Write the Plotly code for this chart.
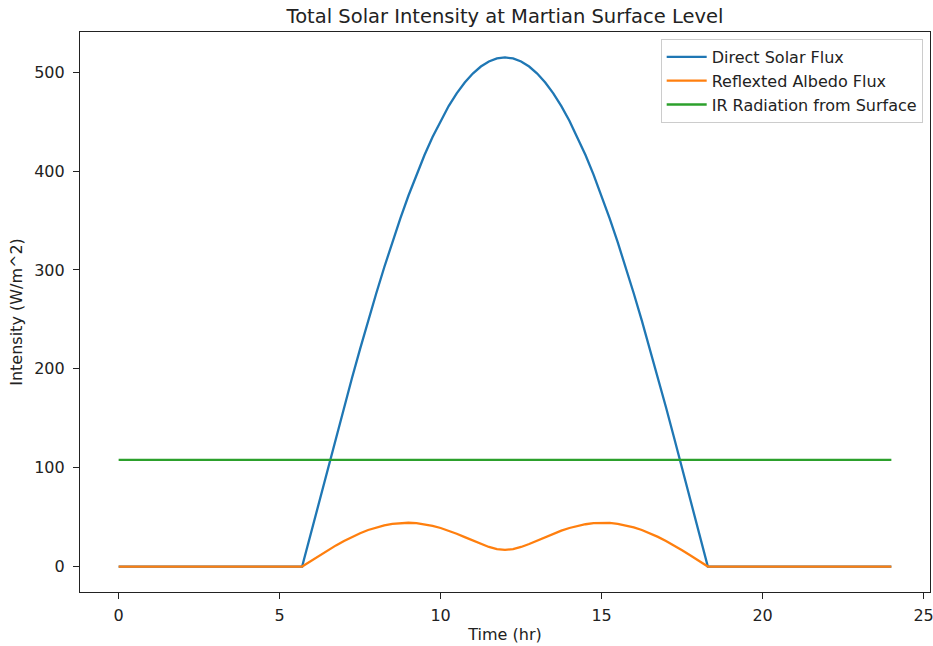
import plotly.graph_objects as go

# Time samples (hr)
time_hr = [0, 5.7, 5.75, 6, 6.25, 6.5, 6.75, 7, 7.25, 7.5, 7.75, 8, 8.25, 8.5, 8.75,
           9, 9.25, 9.5, 9.75, 10, 10.25, 10.5, 10.75, 11, 11.25, 11.5, 11.75, 12,
           12.25, 12.5, 12.75, 13, 13.25, 13.5, 13.75, 14, 14.25, 14.5, 14.75, 15,
           15.25, 15.5, 15.75, 16, 16.25, 16.5, 16.75, 17, 17.25, 17.5, 17.75, 18,
           18.25, 18.3, 24]

# Direct Solar Flux (W/m^2)
direct_flux = [0, 0, 6.3, 37.5, 68.7, 99.8, 130.6, 161.1, 191.0, 220.2, 248.7, 276.2, 302.8, 328.2, 352.3,
               375.1, 396.5, 416.3, 434.5, 451.0, 465.8, 478.6, 489.6, 498.7, 505.8, 510.9, 514.0, 515.0,
               514.0, 510.9, 505.8, 498.7, 489.6, 478.6, 465.8, 451.0, 434.5, 416.3, 396.5, 375.1,
               352.3, 328.2, 302.8, 276.2, 248.7, 220.2, 191.0, 161.1, 130.6, 99.8, 68.7, 37.5,
               6.3, 0, 0]

# Reflected Albedo Flux (W/m^2)
albedo_flux = [0, 0, 1.1, 6.3, 11.5, 16.5, 21.4, 25.9, 30.0, 33.7, 37.0, 39.6, 41.7, 43.2, 44.1,
               44.3, 43.9, 42.8, 41.1, 39.0, 36.3, 33.2, 29.8, 26.3, 22.8, 19.8, 17.6, 16.9,
               17.6, 19.8, 22.8, 26.3, 29.8, 33.2, 36.3, 39.0, 41.1, 42.8, 43.9, 44.3,
               44.1, 43.2, 41.7, 39.6, 37.0, 33.7, 30.0, 25.9, 21.4, 16.5, 11.5, 6.3,
               1.1, 0, 0]

# IR Radiation from Surface (W/m^2)
ir_time = [0, 24]
ir_flux = [108, 108]

series_names = ["Direct Solar Flux", "Reflexted Albedo Flux", "IR Radiation from Surface"]
colors = ["#1f77b4", "#ff7f0e", "#2ca02c"]

x_ticks = [0, 5, 10, 15, 20, 25]
y_ticks = [0, 100, 200, 300, 400, 500]

FONT = "DejaVu Sans"
INK = "#222222"

fig = go.Figure()
fig.add_trace(go.Scatter(x=time_hr, y=direct_flux, mode="lines", name=series_names[0],
                         line=dict(color=colors[0], width=2.3)))
fig.add_trace(go.Scatter(x=time_hr, y=albedo_flux, mode="lines", name=series_names[1],
                         line=dict(color=colors[1], width=2.3)))
fig.add_trace(go.Scatter(x=ir_time, y=ir_flux, mode="lines", name=series_names[2],
                         line=dict(color=colors[2], width=2.3)))

axis_common = dict(
    showgrid=False, zeroline=False, showline=True, linecolor=INK, linewidth=1.2,
    mirror=True, ticks="outside", ticklen=6, tickwidth=1.2, tickcolor=INK,
    tickfont=dict(family=FONT, size=16, color=INK),
    ticklabeloverflow="allow", automargin=False,
)

fig.update_layout(
    width=933, height=646,
    margin=dict(l=80, r=3, t=32, b=54, autoexpand=False),
    paper_bgcolor="white", plot_bgcolor="white",
    font=dict(family=FONT, size=16, color=INK),
    title=dict(text="Total Solar Intensity at Martian Surface Level",
               x=(80 + 930) / 2 / 933, xanchor="center", y=1 - 16 / 646, yanchor="middle",
               font=dict(family=FONT, size=19.5, color=INK)),
    xaxis=dict(range=[-1.2, 25.2], tickvals=x_ticks, ticklabelstandoff=3,
               title=dict(text="Time (hr)", font=dict(family=FONT, size=16), standoff=4),
               **axis_common),
    yaxis=dict(range=[-25.75, 540.75], tickvals=y_ticks, ticklabelstandoff=5,
               title=dict(text="Intensity (W/m^2)", font=dict(family=FONT, size=16), standoff=7),
               **axis_common),
    legend=dict(x=0.9914, xanchor="right", y=0.9875, yanchor="top", itemwidth=40,
                bgcolor="rgba(255,255,255,0.8)", bordercolor="#cccccc", borderwidth=1,
                font=dict(family=FONT, size=16, color=INK)),
    showlegend=True,
)

fig.write_html("out.html")
